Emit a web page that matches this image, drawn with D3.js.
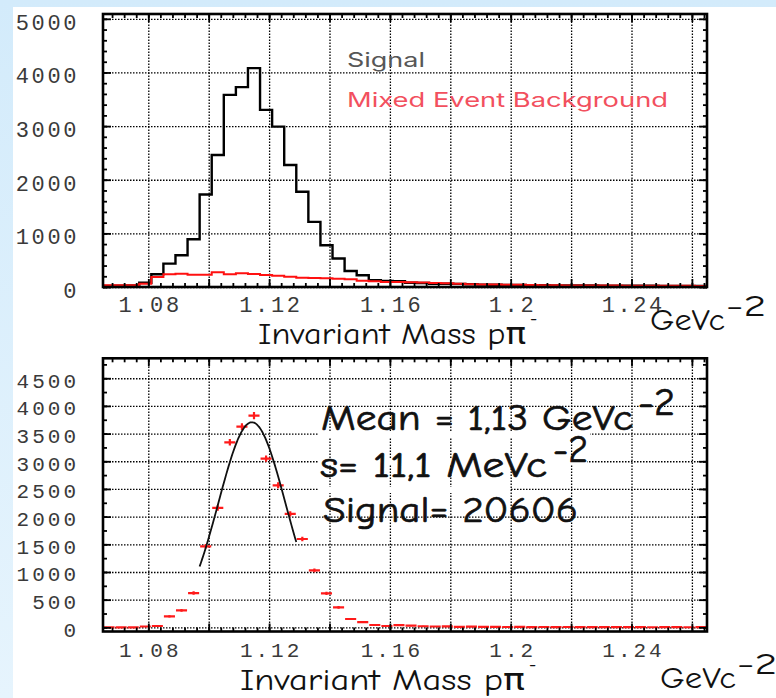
<!DOCTYPE html>
<html>
<head>
<meta charset="utf-8">
<script src="https://cdn.jsdelivr.net/npm/d3@7"></script>
<style>
  html, body { margin: 0; padding: 0; background: #fff; }
  svg { display: block; }
</style>
</head>
<body>
<svg id="chart" width="776" height="698"></svg>
<script>
// ---- data ---------------------------------------------------------------
// p pi- invariant mass, 50 bins of 4 MeV starting at 1.065 GeV
const binStart = 1.065;
const binWidth = 0.004;

// same-event pairs (counts per bin)
const signalCounts = [
  20, 25, 30, 80, 237, 436, 592, 891, 1726, 2461,
  3583, 3726, 4081, 3302, 2991, 2274, 1776, 1215, 779, 530,
  299, 218, 125, 115, 110, 80, 75, 62, 60, 58,
  50, 45, 42, 40, 38, 35, 33, 30, 30, 28,
  27, 25, 25, 24, 22, 22, 20, 20, 18, 18
];

// mixed-event combinatorial background (counts per bin)
const mixedBackground = [
  31, 31, 31, 62, 187, 237, 249, 230, 230, 274,
  237, 255, 243, 224, 212, 193, 174, 168, 162, 156,
  143, 118, 106, 93, 93, 88, 82, 75, 68, 60,
  52, 48, 45, 42, 40, 36, 34, 32, 30, 30,
  28, 27, 26, 25, 24, 23, 22, 22, 21, 20
];

// background-subtracted spectrum (counts per bin)
const subtractedCounts = [
  0, 0, 0, 15, 24, 199, 307, 620, 1464, 2157,
  3343, 3627, 3825, 3048, 2566, 2048, 1596, 1030, 614, 361,
  151, 96, 42, 24, 40, 30, 20, 15, 18, 10,
  12, 8, 10, 6, 8, 5, 6, 4, 6, 5,
  3, 4, 5, 3, 4, 2, 4, 3, 2, 3
];

// gaussian fit to the subtracted peak
const fitAmplitude = 3705;
const fitMean = 1.1143;
const fitSigma = 0.0111;
const fitRange = [1.097, 1.129];

// axis ticks
const massLabels = [1.08, 1.12, 1.16, 1.2, 1.24];
const massGrid = [1.08, 1.10, 1.12, 1.14, 1.16, 1.18, 1.20, 1.22, 1.24, 1.26];
const countTicksTop = [0, 1000, 2000, 3000, 4000, 5000];
const countTicksBottom = [0, 500, 1000, 1500, 2000, 2500, 3000, 3500, 4000, 4500];

// ---- layout --------------------------------------------------------------
const W = 776, H = 698;
const svg = d3.select("#chart");
const nBins = signalCounts.length;
const edges = d3.range(nBins + 1).map(i => binStart + i * binWidth);

const x = d3.scaleLinear().domain([1.065, 1.265]).range([103, 707]);
const yTop = d3.scaleLinear().domain([0, 5090]).range([287, 14]);
const yBot = d3.scaleLinear().domain([-75, 4860]).range([631.5, 358.3]);

const comic = "'Comic Sans MS', 'Comic Neue', 'DejaVu Sans', sans-serif";
const mono = "'Liberation Mono', 'Courier New', monospace";

// page backdrop: pale blue margin on the top and left
const defs = svg.append("defs");
const edgeGrad = defs.append("linearGradient").attr("id", "edgeGrad")
  .attr("x1", 0).attr("y1", 0).attr("x2", 0).attr("y2", 1);
edgeGrad.append("stop").attr("offset", 0).attr("stop-color", "#d3ebfb");
edgeGrad.append("stop").attr("offset", 1).attr("stop-color", "#e6f4fd");
svg.append("rect").attr("width", W).attr("height", H).attr("fill", "url(#edgeGrad)");
svg.append("rect").attr("x", 13).attr("y", 7).attr("width", W - 13).attr("height", H - 7).attr("fill", "#fff");

const fmtMass = d => String(+d.toFixed(2));
const minorMass = d3.range(1.068, 1.2655, 0.004).map(v => +v.toFixed(3));

function drawPanel(cfg) {
  const y = cfg.y;
  const [y0, y1] = y.range();
  const h = y0 - y1;
  const g = svg.append("g");

  const clipId = "clip" + cfg.id;
  defs.append("clipPath").attr("id", clipId)
    .append("rect").attr("x", x.range()[0]).attr("y", y1)
    .attr("width", x.range()[1] - x.range()[0]).attr("height", h);

  // dotted grid
  const grid = g.append("g").attr("class", "grid");
  grid.append("g").attr("transform", `translate(0,${Math.round(y0)})`)
    .call(d3.axisBottom(x).tickValues(massGrid).tickSize(-h).tickFormat(""));
  grid.append("g").attr("transform", `translate(${x.range()[0]},0)`)
    .call(d3.axisLeft(y).tickValues(cfg.gridCounts).tickSize(-(x.range()[1] - x.range()[0])).tickFormat(""));
  grid.selectAll(".domain").remove();
  grid.selectAll("line")
    .attr("stroke", "#000").attr("stroke-width", 1.3)
    .attr("stroke-dasharray", "1.5,1.5");

  // paper patches behind the fit annotation
  if (cfg.patches) {
    cfg.patches.forEach(p => g.append("rect")
      .attr("x", p[0]).attr("y", p[1]).attr("width", p[2]).attr("height", p[3]).attr("fill", "#fff"));
  }

  const plot = g.append("g").attr("clip-path", `url(#${clipId})`);
  cfg.draw(plot);

  // inward ticks on all four sides
  const ticks = g.append("g").attr("class", "ticks");
  const xr = x.range();
  ticks.append("g").attr("transform", `translate(0,${y0})`)
    .call(d3.axisBottom(x).tickValues(minorMass).tickSize(-4).tickFormat(""));
  ticks.append("g").attr("transform", `translate(0,${y0})`)
    .call(d3.axisBottom(x).tickValues(massGrid).tickSize(-8).tickFormat(""));
  ticks.append("g").attr("transform", `translate(0,${y1})`)
    .call(d3.axisTop(x).tickValues(minorMass).tickSize(-4).tickFormat(""));
  ticks.append("g").attr("transform", `translate(0,${y1})`)
    .call(d3.axisTop(x).tickValues(massGrid).tickSize(-8).tickFormat(""));
  ticks.append("g").attr("transform", `translate(${xr[0]},0)`)
    .call(d3.axisLeft(y).tickValues(cfg.minorCounts).tickSize(-4).tickFormat(""));
  ticks.append("g").attr("transform", `translate(${xr[0]},0)`)
    .call(d3.axisLeft(y).tickValues(cfg.gridCounts).tickSize(-8).tickFormat(""));
  ticks.append("g").attr("transform", `translate(${xr[1]},0)`)
    .call(d3.axisRight(y).tickValues(cfg.minorCounts).tickSize(-4).tickFormat(""));
  ticks.append("g").attr("transform", `translate(${xr[1]},0)`)
    .call(d3.axisRight(y).tickValues(cfg.gridCounts).tickSize(-8).tickFormat(""));
  ticks.selectAll(".domain").remove();
  ticks.selectAll("line").attr("stroke", "#000").attr("stroke-width", 1.8);

  // frame
  g.append("rect").attr("x", xr[0]).attr("y", y1)
    .attr("width", xr[1] - xr[0]).attr("height", h)
    .attr("fill", "none").attr("stroke", "#000").attr("stroke-width", 2.6);

  // tick labels
  const xl = g.append("g").attr("transform", `translate(0,${y0})`)
    .call(d3.axisBottom(x).tickValues(massLabels).tickSize(0).tickFormat(fmtMass));
  xl.select(".domain").remove();
  xl.selectAll("text")
    .attr("y", cfg.xLabelBaseline - y0).attr("dy", null)
    .attr("dx", cfg.labelSpacing / 2)
    .attr("font-family", mono).attr("font-size", cfg.labelSize)
    .attr("letter-spacing", cfg.labelSpacing).attr("fill", "#3a3a3a");

  const yl = g.append("g").attr("transform", `translate(${xr[0]},0)`)
    .call(d3.axisLeft(y).tickValues(cfg.labelCounts).tickSize(0).tickFormat(d3.format("d")));
  yl.select(".domain").remove();
  yl.selectAll("text")
    .attr("x", 79 - xr[0]).attr("dy", null).attr("y", cfg.yLabelShift)
    .attr("font-family", mono).attr("font-size", cfg.labelSize)
    .attr("letter-spacing", cfg.labelSpacing).attr("fill", "#3a3a3a");

  // axis titles
  const tt = cfg.title;
  g.append("text").attr("x", tt.x).attr("y", tt.y)
    .attr("textLength", tt.len).attr("lengthAdjust", "spacingAndGlyphs")
    .attr("font-family", comic).attr("font-size", 31).attr("fill", "#111")
    .text("Invariant Mass p\u03c0");
  g.append("text").attr("x", tt.x + tt.len + 4).attr("y", tt.y - 20)
    .attr("font-family", comic).attr("font-size", 18).attr("fill", "#111")
    .text("-");
  const ut = cfg.unit;
  g.append("text").attr("x", ut.x).attr("y", ut.y)
    .attr("textLength", ut.len).attr("lengthAdjust", "spacingAndGlyphs")
    .attr("font-family", comic).attr("font-size", 30).attr("fill", "#111")
    .text("GeVc");
  g.append("text").attr("x", ut.x + ut.len + 1).attr("y", ut.y - 14)
    .attr("textLength", 40).attr("lengthAdjust", "spacingAndGlyphs")
    .attr("font-family", comic).attr("font-size", 30).attr("fill", "#111")
    .text("-2");
}

const histPoints = vals => vals.map((v, i) => [edges[i], v]).concat([[edges[nBins], vals[nBins - 1]]]);

// ---- top panel: same-event and mixed-event spectra ------------------------
drawPanel({
  id: "Top",
  y: yTop,
  gridCounts: countTicksTop,
  labelCounts: countTicksTop,
  minorCounts: d3.range(0, 5001, 200),
  labelSize: 22,
  labelSpacing: 2.6,
  xLabelBaseline: 312,
  yLabelShift: 10.5,
  title: { x: 258, y: 344, len: 268 },
  unit: { x: 650, y: 330, len: 75 },
  draw: plot => {
    const step = d3.line().x(d => x(d[0])).y(d => yTop(d[1])).curve(d3.curveStepAfter);
    plot.append("path").attr("d", step(histPoints(signalCounts)))
      .attr("fill", "none").attr("stroke", "#000").attr("stroke-width", 2.4);
    plot.append("path").attr("d", step(histPoints(mixedBackground)))
      .attr("fill", "none").attr("stroke", "#ff1010").attr("stroke-width", 2);
  }
});

// legend
svg.append("text").attr("x", 347).attr("y", 67)
  .attr("textLength", 78).attr("lengthAdjust", "spacingAndGlyphs")
  .attr("font-family", "Inter, 'DejaVu Sans', sans-serif").attr("font-size", 20)
  .attr("fill", "#575757").text("Signal");
svg.append("text").attr("x", 347).attr("y", 107)
  .attr("textLength", 321).attr("lengthAdjust", "spacingAndGlyphs")
  .attr("font-family", "Inter, 'DejaVu Sans', sans-serif").attr("font-size", 20)
  .attr("fill", "#f2505e").text("Mixed Event Background");

// ---- bottom panel: background-subtracted spectrum with fit -----------------
drawPanel({
  id: "Bottom",
  y: yBot,
  gridCounts: countTicksBottom,
  labelCounts: countTicksBottom,
  minorCounts: d3.range(0, 4801, 250),
  labelSize: 21,
  labelSpacing: 3,
  xLabelBaseline: 657,
  yLabelShift: 9,
  title: { x: 240, y: 690, len: 285 },
  unit: { x: 660, y: 688, len: 76 },
  patches: [[318, 431, 272, 6], [318, 459, 269, 6], [318, 487, 192, 6]],
  draw: plot => {
    const marks = plot.selectAll("g.bin").data(subtractedCounts).join("g").attr("class", "bin");
    marks.append("line")
      .attr("x1", (d, i) => x(edges[i]) + 0.5).attr("x2", (d, i) => x(edges[i + 1]) - 0.5)
      .attr("y1", d => yBot(d)).attr("y2", d => yBot(d));
    marks.append("line")
      .attr("x1", (d, i) => x((edges[i] + edges[i + 1]) / 2))
      .attr("x2", (d, i) => x((edges[i] + edges[i + 1]) / 2))
      .attr("y1", (d, i) => yBot(d - Math.sqrt(signalCounts[i])))
      .attr("y2", (d, i) => yBot(d + Math.sqrt(signalCounts[i])));
    marks.selectAll("line").attr("stroke", "#ff1a1a").attr("stroke-width", 2.2);

    const gauss = m => fitAmplitude * Math.exp(-0.5 * Math.pow((m - fitMean) / fitSigma, 2));
    const fitPts = d3.range(fitRange[0], fitRange[1] + 1e-9, 0.0004).map(m => [m, gauss(m)]);
    plot.append("path")
      .attr("d", d3.line().x(d => x(d[0])).y(d => yBot(d[1])).curve(d3.curveBasis)(fitPts))
      .attr("fill", "none").attr("stroke", "#111").attr("stroke-width", 1.8);
  }
});

// fit results
const note = svg.append("g").attr("font-family", comic).attr("fill", "#111")
  .attr("stroke", "#111").attr("stroke-width", 0.7);
note.append("text").attr("x", 321).attr("y", 430).attr("font-size", 37)
  .attr("textLength", 312).attr("lengthAdjust", "spacingAndGlyphs").text("Mean = 1,13 GeVc");
note.append("text").attr("x", 638).attr("y", 415).attr("font-size", 38)
  .attr("textLength", 37).attr("lengthAdjust", "spacingAndGlyphs").text("-2");
note.append("text").attr("x", 320).attr("y", 477).attr("font-size", 37)
  .attr("textLength", 227).attr("lengthAdjust", "spacingAndGlyphs").text("s= 11,1 MeVc");
note.append("text").attr("x", 553).attr("y", 462).attr("font-size", 38)
  .attr("textLength", 35).attr("lengthAdjust", "spacingAndGlyphs").text("-2");
note.append("text").attr("x", 323).attr("y", 522).attr("font-size", 37)
  .attr("textLength", 255).attr("lengthAdjust", "spacingAndGlyphs").text("Signal= 20606");
</script>
</body>
</html>
